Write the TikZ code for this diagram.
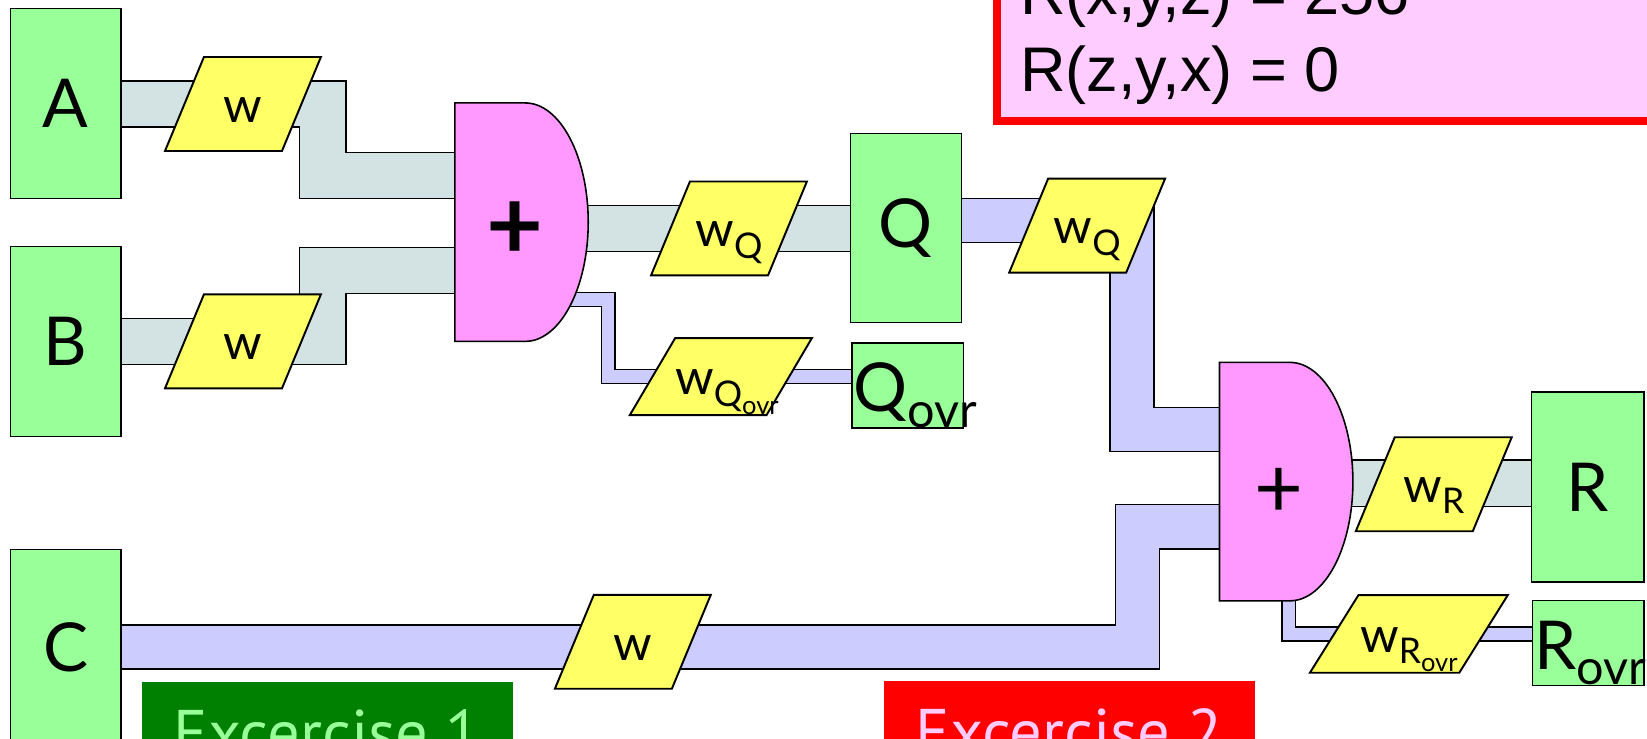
\documentclass[tikz,border=0pt]{standalone}
\usepackage{fontspec}
\setmainfont{Lato}
\newfontfamily\rulefont{Liberation Sans}
\newfontfamily\exfont{PT Sans}
\usepackage{graphicx}
\usetikzlibrary{shapes.geometric, positioning}
\pgfdeclarelayer{bg}
\pgfsetlayers{bg,main}
\definecolor{boxgreen}{RGB}{153,255,153}
\definecolor{wyellow}{RGB}{255,255,102}
\definecolor{gatepink}{RGB}{255,153,255}
\definecolor{wireteal}{RGB}{211,227,227}
\definecolor{wirelav}{RGB}{204,204,255}
\definecolor{rulepink}{RGB}{255,204,255}
\definecolor{exgreen}{RGB}{0,128,0}
\newcommand\lowsub[1]{\raisebox{-0.45ex}{\scalebox{0.72}{#1}}}

\begin{document}
\begin{tikzpicture}[x=0.021008cm, y=-0.021008cm,
    reg/.style={draw, line width=0.8pt, fill=boxgreen, minimum width=2.21cm, minimum height=3.8cm, inner sep=0pt, font=\fontsize{38.4}{40}\selectfont},
    ovrreg/.style={reg, minimum width=2.227cm, minimum height=1.702cm, text width=2.15cm, align=left, text height=1.05cm, text depth=0pt},
    weight/.style={trapezium, draw, line width=1.1pt, fill=wyellow, trapezium left angle=67.5, trapezium right angle=112.5, text width=1.561cm, align=center, inner xsep=0pt, inner ysep=0.5725cm, text height=0.735cm, text depth=0pt, font=\fontsize{28}{30}\selectfont},
    ovrweight/.style={weight, trapezium left angle=59.5, trapezium right angle=120.5, text width=1.828cm, inner ysep=0.402cm},
    gate/.style={draw, line width=0.9pt, fill=gatepink},
    opsym/.style={inner sep=0pt, font=\fontsize{48}{48}\selectfont},
    boldop/.style={inner sep=0pt, font=\fontsize{56}{56}\selectfont\bfseries},
    tealwire/.style={line width=0.8pt, double=wireteal, double distance=25.5pt, line join=miter},
    lavwire/.style={tealwire, double=wirelav, double distance=24.3pt},
    ovrwire/.style={lavwire, double distance=7.1pt},
    rulebox/.style={draw=red, line width=4.5pt, fill=rulepink, minimum width=14.6cm, minimum height=4cm},
    ruletxt/.style={inner sep=0pt, font=\rulefont\fontsize{35.9}{40}\selectfont},
    exbox/.style={minimum width=7.416cm, minimum height=2.038cm, inner sep=0pt, font=\exfont\fontsize{36.7}{40}\selectfont}
]
    \useasboundingbox (0,0) rectangle (1568,703);
    \clip (0,0) rectangle (1568,703);

    % inputs
    \node[reg] (A) at (62.5,98.5) {A};
    \node[reg] (B) at (62.5,325) {B};
    \node[reg, minimum height=3.907cm] (C) at (62.5,616) {C};

    % weights on the inputs
    \node[weight] (wA) at (231.3,99) {w};
    \node[weight] (wB) at (231.3,325) {w};
    \node[weight] (wC) at (602.5,611) {w};

    % first adder
    \coordinate (add1) at (433,98);
    \draw[gate] (add1) -- ++(67,0) arc[start angle=-90, end angle=90, x radius=60, y radius=113.5] -- ++(-67,0) -- cycle;
    \node[boldop] (plus1) at (490,219.5) {+};
    \coordinate (add1-a) at (433,167);
    \coordinate (add1-b) at (433,257.5);
    \coordinate (add1-q) at (500,217.5);
    \coordinate (add1-v) at (520,285);

    % Q and its overflow
    \node[weight] (wQ) at (694,217.5) {w\lowsub{Q}};
    \node[reg, minimum height=3.78cm] (Q) at (862.5,217) {Q};
    \node[ovrweight] (wQo) at (686.3,358.5) {w\lowsub{Q\lowsub{ovr}}};
    \node[ovrreg] (Qo) at (864,367) {Q\lowsub{ovr}};
    \node[weight] (wQb) at (1035,214.8) {w\lowsub{Q}};

    % second adder
    \coordinate (add2) at (1161,345);
    \draw[gate] (add2) -- ++(67,0) arc[start angle=-90, end angle=90, x radius=60, y radius=113.5] -- ++(-67,0) -- cycle;
    \node[opsym] (plus2) at (1217.6,469.3) {+};
    \coordinate (add2-a) at (1161,409);
    \coordinate (add2-b) at (1161,501.5);
    \coordinate (add2-q) at (1228,460);
    \coordinate (add2-v) at (1227,560);

    % R and its overflow
    \node[weight] (wR) at (1365,461) {w\lowsub{R}};
    \node[reg, minimum width=2.248cm] (R) at (1511.5,463.5) {R};
    \node[ovrweight, trapezium left angle=58, trapezium right angle=122, text width=2.017cm, inner ysep=0.409cm] (wRo) at (1341.3,603.5) {w\lowsub{R\lowsub{ovr}}};
    \node[ovrreg] (Ro) at (1512,612) {R\lowsub{ovr}};

    % results
    \node[rulebox, anchor=south west] (rules) at (945.5,119) {};
    \node[ruletxt, anchor=base west] (rxyz) at (971,14) {R(x,y,z) = 256};
    \node[ruletxt, anchor=base west] (rzyx) at (971,87) {R(z,y,x) = 0};

    % exercises
    \node[exbox, fill=exgreen, text=boxgreen] (ex1) at (311.5,697.5) {Excercise 1};
    \node[exbox, fill=red, text=rulepink] (ex2) at (1018,697) {Excercise 2};

    % wires
    \begin{pgfonlayer}{bg}
        \draw[tealwire] (A.east |- wA) -- ++(191.5,0) |- (add1-a);
        \draw[tealwire] (B.east |- wB) -- ++(191.5,0) |- (add1-b);
        \draw[tealwire] (add1-q) -- (Q.west |- add1-q);
        \draw[ovrwire] (add1-v) -- ++(59,0) |- (Qo.west |- wQo);
        \draw[lavwire] ([yshift=0.147cm]Q.east) -- ++(162,0) |- (add2-a);
        \draw[lavwire] (C.east) -- ++(967,0) |- (add2-b);
        \draw[tealwire] (add2-q) -- (R.west |- add2-q);
        \draw[ovrwire] (add2-v) |- (Ro.west |- wRo);
    \end{pgfonlayer}
\end{tikzpicture}
\end{document}
